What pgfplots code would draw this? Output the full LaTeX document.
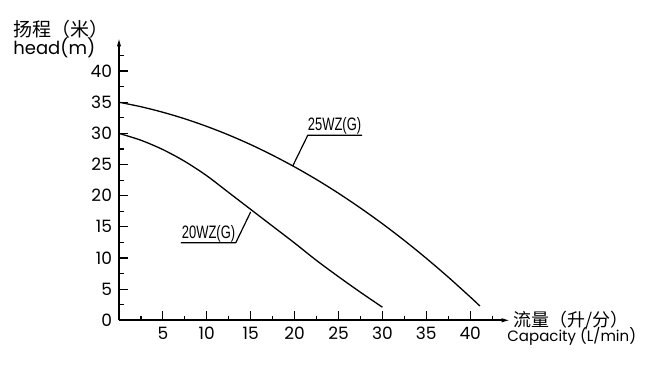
\documentclass[border=0pt]{standalone}
\usepackage{pgfplots}
\pgfplotsset{compat=1.18}
\usetikzlibrary{arrows.meta}
\usepackage{graphicx}
\usepackage{fontspec}
\setmainfont{Poppins}
\newfontfamily\cjk{Noto Sans CJK SC}
\newfontfamily\cad{Liberation Sans}
\begin{document}
\begin{tikzpicture}
\useasboundingbox (-59.5pt,-23.85pt) rectangle (265.5pt,160.15pt);
\begin{axis}[
 anchor=origin, at={(0,0)},
 x=4.39pt, y=3.115pt,
 xmin=0, xmax=44.6, ymin=0, ymax=45.4,
 axis lines=left,
 axis line style={line width=0.8pt, -{Latex[length=4.5pt,width=2.2pt]}},
 xtick={5,10,...,40}, ytick={0,5,...,40},
 minor xtick={2.5,7.5,...,42.5}, minor ytick={2.5,7.5,...,42.5},
 major tick length=4.5pt, minor tick length=2.3pt,
 tick align=inside,
 tick style={line width=0.6pt, black},
 ticklabel style={font=\fontsize{8.5}{10}\selectfont},
 /pgf/number format/assume math mode=true,
 clip=false,
]
\addplot[black, line width=0.65pt, smooth] coordinates {
(0,35) (2.5,34.28) (5,33.39) (7.5,32.34) (10,31.12) (12.5,29.74) (15,28.20) (17.5,26.49) (20,24.62) (22.5,22.59) (25,20.39) (27.5,18.02) (30,15.50) (32.5,12.81) (35,9.95) (37.5,6.93) (40,3.75) (41.1,2.3)};
\addplot[black, line width=0.65pt, smooth] coordinates {
(0,30) (2.5,28.9) (5,27.4) (7.5,25.5) (10,23.2) (12.5,20.5) (15,17.8) (17.5,15.1) (20,12.4) (22.5,9.6) (25,7.0) (27.5,4.5) (30,2.1)};
\draw[line width=0.6pt] (axis cs:19.8,24.8) -- (axis cs:21.5,29.7) -- (axis cs:27.7,29.7);
\node[anchor=base, inner sep=0] at (axis cs:24.55,30.5) {\cad\fontsize{9}{10}\selectfont\scalebox{0.72}[1]{25WZ(G)}};
\draw[line width=0.6pt] (axis cs:15.0,17.4) -- (axis cs:13.3,12.45) -- (axis cs:7.06,12.45);
\node[anchor=base, inner sep=0] at (axis cs:10.2,13.2) {\cad\fontsize{9}{10}\selectfont\scalebox{0.72}[1]{20WZ(G)}};
\end{axis}
\node[anchor=west, inner sep=0, font=\cjk\fontsize{9.5}{10}\selectfont] at (-53pt,145.65pt) {扬程（米）};
\node[anchor=west, inner sep=0, font=\fontsize{9}{10}\selectfont] at (-53pt,136.15pt) {head(m)};
\node[anchor=west, inner sep=0, font=\cjk\fontsize{9}{10}\selectfont] at (197pt,0pt) {流量（升/分）};
\node[anchor=west, inner sep=0, font=\fontsize{7.5}{10}\selectfont] at (194pt,-8.1pt) {Capacity (L/min)};
\end{tikzpicture}
\end{document}
